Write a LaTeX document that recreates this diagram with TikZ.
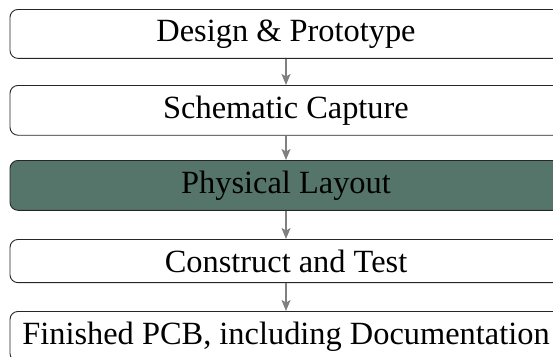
\documentclass[tikz,border=0pt]{standalone}
\usepackage{fontspec}
\setmainfont{Liberation Serif}
\usetikzlibrary{arrows.meta}
\definecolor{layoutgreen}{RGB}{85,117,107}
\definecolor{flowgray}{RGB}{128,128,128}
\begin{document}
\begin{tikzpicture}[x=1pt,y=1pt,
  stagebox/.style={draw=black!85, line width=0.9pt, rounded corners=8pt,
    minimum width=552pt, inner xsep=4pt, inner ysep=10.2pt, anchor=north,
    font=\fontsize{32.4}{38}\selectfont},
  current/.style={stagebox, fill=layoutgreen},
  flow/.style={draw=flowgray, line width=1.5pt,
    -{Stealth[length=11pt,width=9pt,inset=2.5pt]}}]
  \useasboundingbox (0,0) rectangle (553,-356);
  \clip (0,0) rectangle (553,-356);
  % process stages, placed by their top edges
  \node[stagebox] (design)    at (286,-9)   {Design \& Prototype};
  \node[stagebox] (schematic) at (286,-85)  {Schematic Capture};
  \node[current]  (layout)    at (286,-160) {Physical Layout};
  \node[stagebox] (construct) at (286,-239) {Construct and Test};
  \node[stagebox] (finished)  at (286,-311) {Finished PCB, including Documentation};
  % flow between stages
  \draw[flow] (design.south)    -- (schematic.north);
  \draw[flow] (schematic.south) -- (layout.north);
  \draw[flow] (layout.south)    -- (construct.north);
  \draw[flow] (construct.south) -- (finished.north);
\end{tikzpicture}
\end{document}
